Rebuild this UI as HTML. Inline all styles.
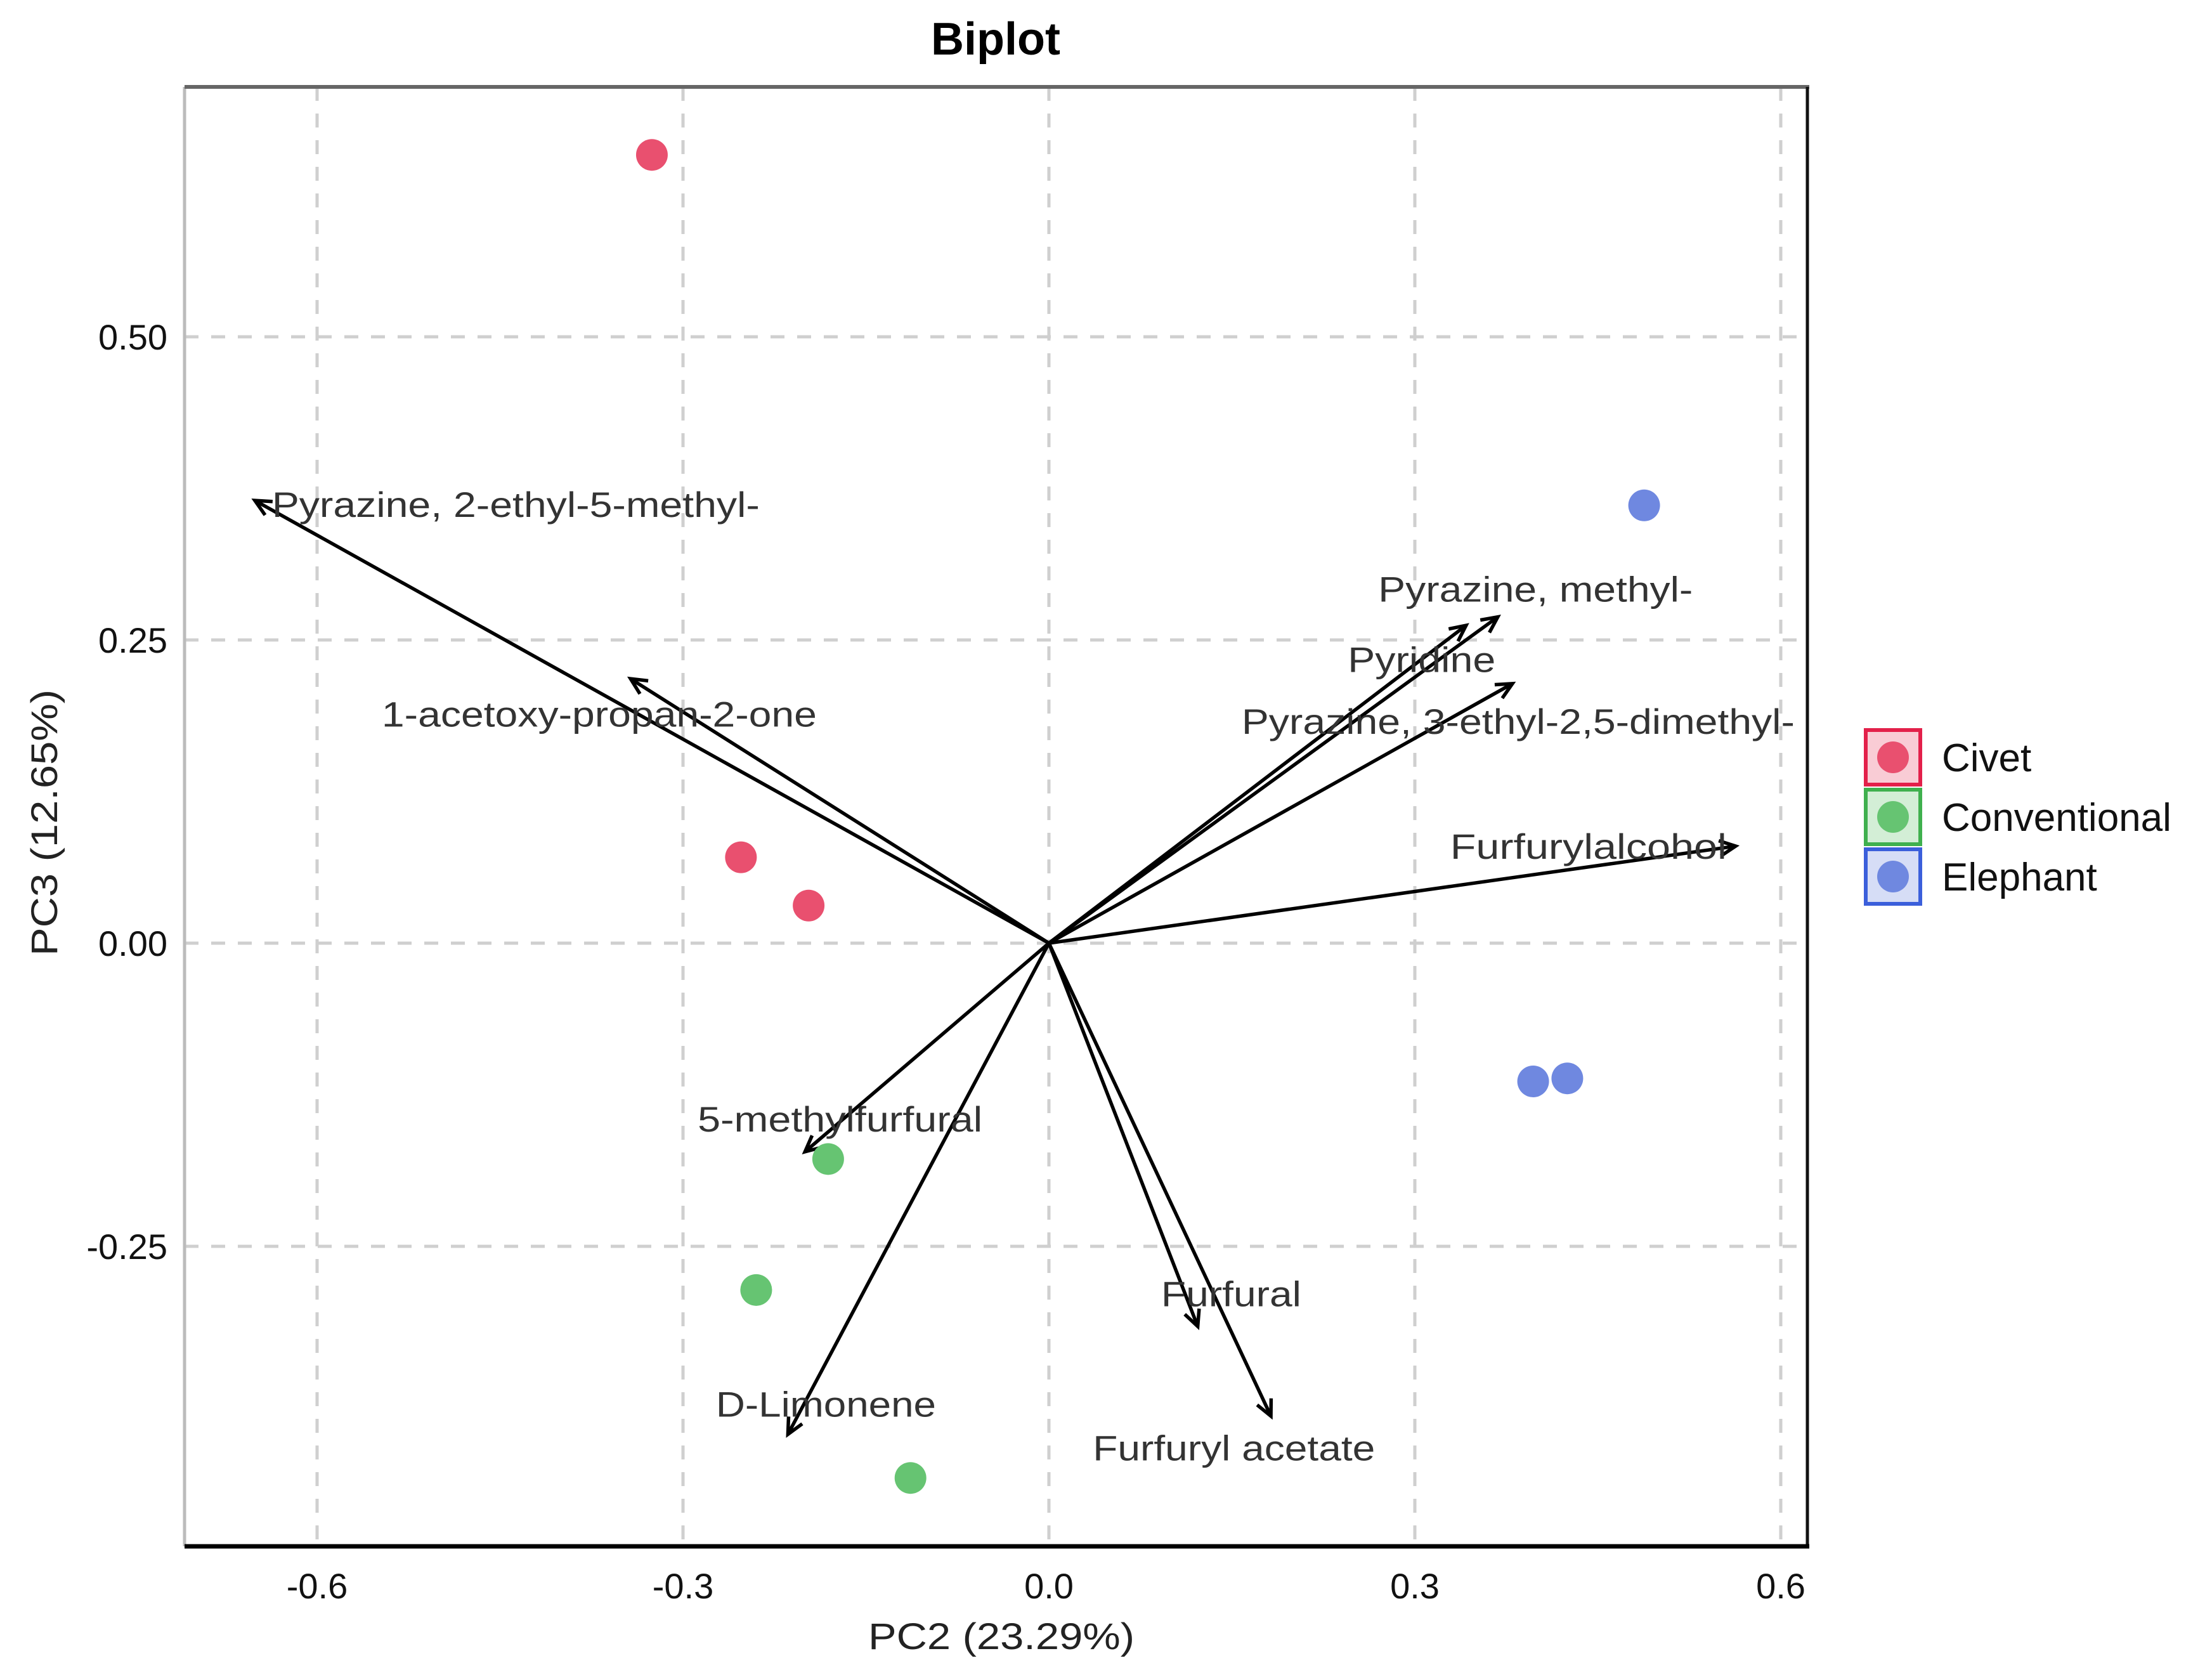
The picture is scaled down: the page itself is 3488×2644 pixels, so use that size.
<!DOCTYPE html>
<html><head><meta charset="utf-8"><style>
html,body{margin:0;padding:0;background:#fff;}
svg{display:block;}
text{font-family:"Liberation Sans",sans-serif;}
</style></head><body>
<svg id="chart" width="3488" height="2644" viewBox="0 0 3488 2644" xmlns="http://www.w3.org/2000/svg">
<text x="1570" y="86" text-anchor="middle" font-size="72" font-weight="bold" fill="#000">Biplot</text>
<g id="grid"></g>
<g id="arrows"></g>
<g id="points"></g>
<g id="labels"></g>
<g id="frame"></g>
<g id="ticks"></g>
<text x="1579" y="2600" text-anchor="middle" font-size="58" fill="#222" textLength="420" lengthAdjust="spacingAndGlyphs">PC2 (23.29%)</text>
<text transform="translate(90,1297) rotate(-90)" text-anchor="middle" font-size="58" fill="#222" textLength="420" lengthAdjust="spacingAndGlyphs">PC3 (12.65%)</text>
<g id="legend"></g>
</svg>
<script>
const groups = ["Civet","Conventional","Elephant"];
const groupColors = ["#E9506F","#66C472","#6F88E0"];
const civetX = [-0.3255,-0.2525,-0.197];
const civetY = [0.650,0.0708,0.031];
const convX = [-0.181,-0.240,-0.1135];
const convY = [-0.178,-0.286,-0.441];
const elephX = [0.488,0.397,0.425];
const elephY = [0.361,-0.114,-0.1115];
const loadingNames = ["Pyrazine, 2-ethyl-5-methyl-","1-acetoxy-propan-2-one","Pyrazine, methyl-","Pyridine","Pyrazine, 3-ethyl-2,5-dimethyl-","Furfurylalcohol","5-methylfurfural","D-Limonene","Furfural","Furfuryl acetate"];
const loadingX = [-0.651,-0.343,0.368,0.342,0.380,0.563,-0.200,-0.214,0.122,0.182];
const loadingY = [0.365,0.218,0.269,0.262,0.214,0.080,-0.172,-0.405,-0.316,-0.390];
const labelX = [-0.637,-0.547,0.270,0.245,0.158,0.329,-0.288,-0.273,0.092,0.036];
const labelY = [0.362,0.189,0.292,0.234,0.183,0.080,-0.145,-0.380,-0.289,-0.416];
const labelW = [769,686,496,233,872,436,449,347,221,445];
const xTicks = [-0.6,-0.3,0.0,0.3,0.6];
const xTickLabels = ["-0.6","-0.3","0.0","0.3","0.6"];
const yTicks = [0.5,0.25,0,-0.25];
const yTickLabels = ["0.50","0.25","0.00","-0.25"];

const L=291,R=2850,T=137,B=2438;
const X0=1654, XS=577/0.3, Y0=1487, YS=478/0.25;
const sx = v => X0 + v*XS;
const sy = v => Y0 - v*YS;
const NS="http://www.w3.org/2000/svg";
function mk(tag, attrs, parent){const e=document.createElementNS(NS,tag);for(const k in attrs)e.setAttribute(k,attrs[k]);parent.appendChild(e);return e;}

const grid=document.getElementById('grid');
xTicks.forEach(v=>{
  const l=mk('line',{x1:sx(v),x2:sx(v),y1:T,y2:B,stroke:'#cfcfcf','stroke-width':5,'stroke-dasharray':'22,20'},grid);
  
  
});
yTicks.forEach(v=>{
  const l=mk('line',{x1:L,x2:R,y1:sy(v),y2:sy(v),stroke:'#cfcfcf','stroke-width':5,'stroke-dasharray':'22,20'},grid);
  
  
});

const frame=document.getElementById('frame');
const fl=mk('line',{x1:L,x2:L,y1:T,y2:B,stroke:'#bbb','stroke-width':5},frame);


const ft=mk('line',{x1:L,x2:R+3,y1:T,y2:T,stroke:'#666','stroke-width':6},frame);


const fr=mk('line',{x1:R,x2:R,y1:T,y2:B,stroke:'#111','stroke-width':5},frame);


const fb=mk('line',{x1:L,x2:R+3,y1:B,y2:B,stroke:'#000','stroke-width':7},frame);



const ticks=document.getElementById('ticks');
xTicks.forEach((v,i)=>{
  const t=mk('text',{x:sx(v),y:2520,'text-anchor':'middle','font-size':56,fill:'#111'},ticks);
  t.textContent=xTickLabels[i];
  
  
});
yTicks.forEach((v,i)=>{
  const t=mk('text',{x:264,y:sy(v)+20,'text-anchor':'end','font-size':56,fill:'#111'},ticks);
  t.textContent=yTickLabels[i];
  
  
});

const arrows=document.getElementById('arrows');
loadingX.forEach((v,i)=>{
  const x1=sx(0),y1=sy(0),x2=sx(v),y2=sy(loadingY[i]);
  const g=mk('g',{},arrows);
  
  
  mk('line',{x1:x1,y1:y1,x2:x2,y2:y2,stroke:'#000','stroke-width':5.5},g);
  const a=Math.atan2(y2-y1,x2-x1),h=28,w=0.45;
  const p=`M${x2-h*Math.cos(a-w)},${y2-h*Math.sin(a-w)} L${x2},${y2} L${x2-h*Math.cos(a+w)},${y2-h*Math.sin(a+w)}`;
  mk('path',{d:p,fill:'none',stroke:'#000','stroke-width':5.5},g);
});

const pts=document.getElementById('points');
[[civetX,civetY],[convX,convY],[elephX,elephY]].forEach((s,gi)=>{
  s[0].forEach((v,i)=>{
    const c=mk('circle',{cx:sx(v),cy:sy(s[1][i]),r:25,fill:groupColors[gi]},pts);
    
    
  });
});

const labels=document.getElementById('labels');
loadingNames.forEach((n,i)=>{
  const t=mk('text',{x:sx(labelX[i]),y:sy(labelY[i])+20,'font-size':56,fill:'#333',textLength:labelW[i],lengthAdjust:'spacingAndGlyphs'},labels);
  t.textContent=n;
  
  
});

const legend=document.getElementById('legend');
const legY=[1194,1288,1382];
const legFill=["#F9CCD5","#D3EED6","#D6DDF6"];
const legBorder=["#E3204A","#3FB04E","#3B5FDB"];
groups.forEach((g,i)=>{
  const e=mk('g',{},legend);
  
  
  mk('rect',{x:2957-15,y:legY[i]-43,width:86,height:86,fill:legFill[i],stroke:legBorder[i],'stroke-width':6},e);
  mk('circle',{cx:2985,cy:legY[i],r:25,fill:groupColors[i]},e);
  const t=mk('text',{x:3062,y:legY[i]+22,'font-size':62,fill:'#111'},e);
  t.textContent=g;
});
</script>
</body></html>
